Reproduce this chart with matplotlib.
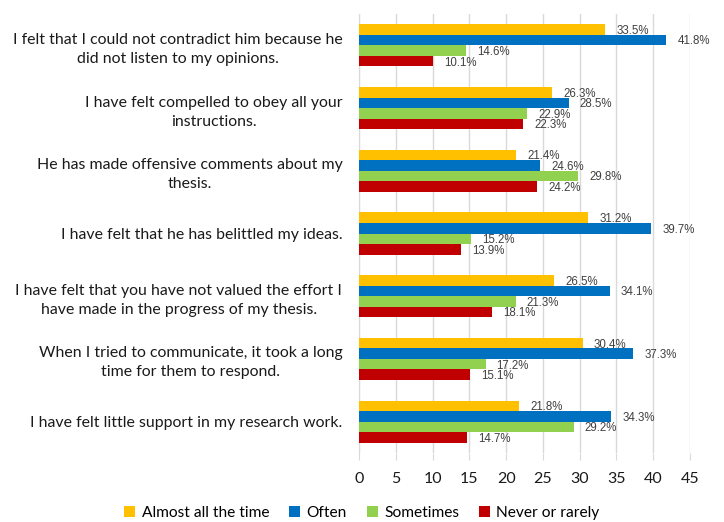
import numpy as np
import matplotlib.pyplot as plt

plt.rcParams['font.family'] = ['Lato', 'DejaVu Sans']

categories = [
    "I felt that I could not contradict him because he\ndid not listen to my opinions.",
    "I have felt compelled to obey all your\ninstructions.",
    "He has made offensive comments about my\nthesis.",
    "I have felt that he has belittled my ideas.",
    "I have felt that you have not valued the effort I\nhave made in the progress of my thesis.",
    "When I tried to communicate, it took a long\ntime for them to respond.",
    "I have felt little support in my research work.",
]
series_names = ["Almost all the time", "Often", "Sometimes", "Never or rarely"]
almost_all = [33.5, 26.3, 21.4, 31.2, 26.5, 30.4, 21.8]
often = [41.8, 28.5, 24.6, 39.7, 34.1, 37.3, 34.3]
sometimes = [14.6, 22.9, 29.8, 15.2, 21.3, 17.2, 29.2]
never = [10.1, 22.3, 24.2, 13.9, 18.1, 15.1, 14.7]
colors = ["#FFC000", "#0070C0", "#92D050", "#C00000"]

fig = plt.figure(figsize=(7.24, 5.22), dpi=100)
ax = fig.add_axes([359 / 724, 1 - 453 / 522, (690 - 359) / 724, (453 - 14) / 522])

n = len(categories)
y = np.arange(n)
h = 0.168
series = [almost_all, often, sometimes, never]
for k, (vals, name, col) in enumerate(zip(series, series_names, colors)):
    pos = y + (k - 1.5) * h
    bars = ax.barh(pos, vals, height=h, color=col, label=name, zorder=3)
    for b, v in zip(bars, vals):
        ax.annotate(f"{v:.1f}%", (v, b.get_y() + h / 2), xytext=(8, -1),
                    textcoords="offset points", va="center", ha="left",
                    fontsize=8.3, color="#404040", family=["Liberation Sans", "DejaVu Sans"])

ax.set_ylim(n - 0.5, -0.5)
ax.set_xlim(0, 45)
ax.set_xticks(range(0, 46, 5))
ax.set_yticks(y)
ax.set_yticklabels(categories, fontsize=11.4, color="#1a1a1a", ha="right",
                   multialignment="center", linespacing=1.45)
ax.tick_params(axis="y", length=0, pad=12)
ax.tick_params(axis="x", length=5, color="#D9D9D9", labelsize=11.5, labelcolor="#1a1a1a", pad=9)
ax.grid(axis="x", color="#D9D9D9", linewidth=1, zorder=0)
for s in ["top", "right", "bottom"]:
    ax.spines[s].set_visible(False)
ax.spines["left"].set_color("#D9D9D9")

handles, labels = ax.get_legend_handles_labels()
fig.legend(handles, labels, loc="center", bbox_to_anchor=(362 / 724, 1 - 513 / 522),
           ncol=4, frameon=False, fontsize=11.2, handlelength=0.7, handleheight=0.7,
           handletextpad=0.4, columnspacing=1.3)

fig.savefig("out.png", dpi=100)
